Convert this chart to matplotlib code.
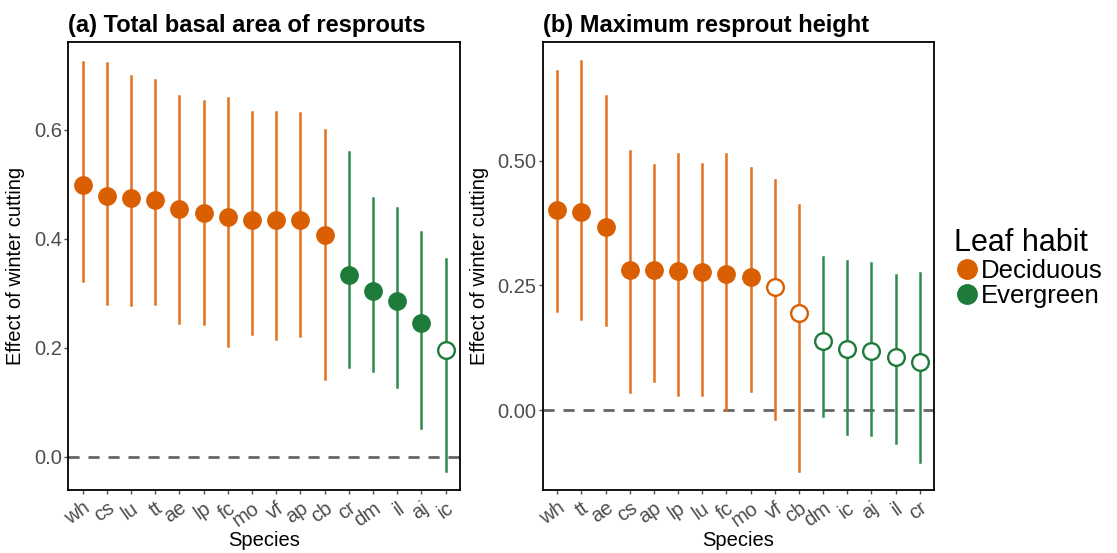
import matplotlib
matplotlib.use("Agg")
import matplotlib.pyplot as plt
from matplotlib.lines import Line2D
import numpy as np

plt.rcParams["font.family"] = ["Liberation Sans", "DejaVu Sans"]

# panel (a): total basal area of resprouts
sp_a = ["wh", "cs", "lu", "tt", "ae", "lp", "fc", "mo", "vf", "ap", "cb", "cr", "dm", "il", "aj", "ic"]
est_a = [0.498, 0.479, 0.475, 0.472, 0.454, 0.448, 0.439, 0.435, 0.435, 0.435, 0.406, 0.333, 0.305, 0.286, 0.245, 0.195]
lo_a = [0.323, 0.281, 0.278, 0.280, 0.245, 0.243, 0.203, 0.225, 0.216, 0.222, 0.142, 0.165, 0.157, 0.128, 0.053, -0.026]
hi_a = [0.725, 0.723, 0.699, 0.692, 0.662, 0.652, 0.658, 0.632, 0.633, 0.631, 0.599, 0.560, 0.475, 0.457, 0.412, 0.363]
habit_a = ["D"] * 11 + ["E"] * 5
sig_a = [True] * 15 + [False]

# panel (b): maximum resprout height
sp_b = ["wh", "tt", "ae", "cs", "ap", "lp", "lu", "fc", "mo", "vf", "cb", "dm", "ic", "aj", "il", "cr"]
est_b = [0.402, 0.397, 0.368, 0.281, 0.281, 0.279, 0.277, 0.272, 0.267, 0.247, 0.195, 0.139, 0.123, 0.118, 0.106, 0.096]
lo_b = [0.199, 0.182, 0.170, 0.036, 0.058, 0.031, 0.031, 0.000, 0.039, -0.017, -0.122, -0.011, -0.048, -0.049, -0.065, -0.103]
hi_b = [0.680, 0.699, 0.630, 0.520, 0.491, 0.513, 0.493, 0.514, 0.486, 0.461, 0.411, 0.307, 0.299, 0.296, 0.271, 0.275]
habit_b = ["D"] * 11 + ["E"] * 5
sig_b = [True] * 9 + [False] * 7

col = {"D": "#D95F02", "E": "#1E7B3A"}
bar_col = {"D": "#E2711D", "E": "#2E8A4A"}

fig = plt.figure(figsize=(11.17, 5.53), dpi=100)
ax_a = fig.add_axes([0.0609, 0.114, 0.351, 0.810])
ax_b = fig.add_axes([0.4859, 0.114, 0.3505, 0.810])


def draw_panel(ax, sp, est, lo, hi, habit, sig, ylim, yticks, ylabels, title):
    x = np.arange(len(sp))
    ax.axhline(0, color="#666666", lw=2, ls=(0, (4, 3.2)), zorder=1)
    for i in x:
        ax.plot([i, i], [lo[i], hi[i]], color=bar_col[habit[i]], lw=1.8,
                solid_capstyle="projecting", zorder=2)
        if sig[i]:
            ax.plot(i, est[i], "o", ms=12.5, color=col[habit[i]], mec=col[habit[i]], zorder=3)
        else:
            ax.plot(i, est[i], "o", ms=12, mfc="white", mec=col[habit[i]], mew=1.7, zorder=3)
    ax.set_xlim(-0.6, len(sp) - 0.4)
    ax.set_ylim(*ylim)
    ax.set_yticks(yticks)
    ax.set_yticklabels(ylabels)
    ax.set_xticks(x)
    ax.set_xticklabels(sp, rotation=35, ha="right", va="top", rotation_mode="anchor")
    ax.tick_params(axis="both", colors="#4D4D4D", labelsize=14.5, length=3, width=1, pad=1.5)
    ax.tick_params(axis="x", pad=3)
    for s in ax.spines.values():
        s.set_linewidth(1.3)
        s.set_color("black")
    ax.set_xlabel("Species", fontsize=14.5, labelpad=1)
    ax.set_ylabel("Effect of winter cutting", fontsize=14.5, labelpad=6)
    ax.set_title(title, fontsize=17, fontweight="bold", loc="left", pad=7)


draw_panel(ax_a, sp_a, est_a, lo_a, hi_a, habit_a, sig_a, (-0.061, 0.761),
           [0.0, 0.2, 0.4, 0.6], ["0.0", "0.2", "0.4", "0.6"],
           "(a) Total basal area of resprouts")
draw_panel(ax_b, sp_b, est_b, lo_b, hi_b, habit_b, sig_b, (-0.160, 0.738),
           [0.0, 0.25, 0.5], ["0.00", "0.25", "0.50"],
           "(b) Maximum resprout height")

handles = [Line2D([], [], marker="o", ls="", ms=14, color=col["D"]),
           Line2D([], [], marker="o", ls="", ms=14, color=col["E"])]
fig.legend(handles, ["Deciduous", "Evergreen"], title="Leaf habit",
           loc="center left", bbox_to_anchor=(0.838, 0.515), frameon=False,
           fontsize=18.5, title_fontsize=22, handletextpad=0.05, labelspacing=0.05,
           borderpad=0.2, handlelength=1.0, alignment="left")

fig.savefig("out.png", dpi=100)
